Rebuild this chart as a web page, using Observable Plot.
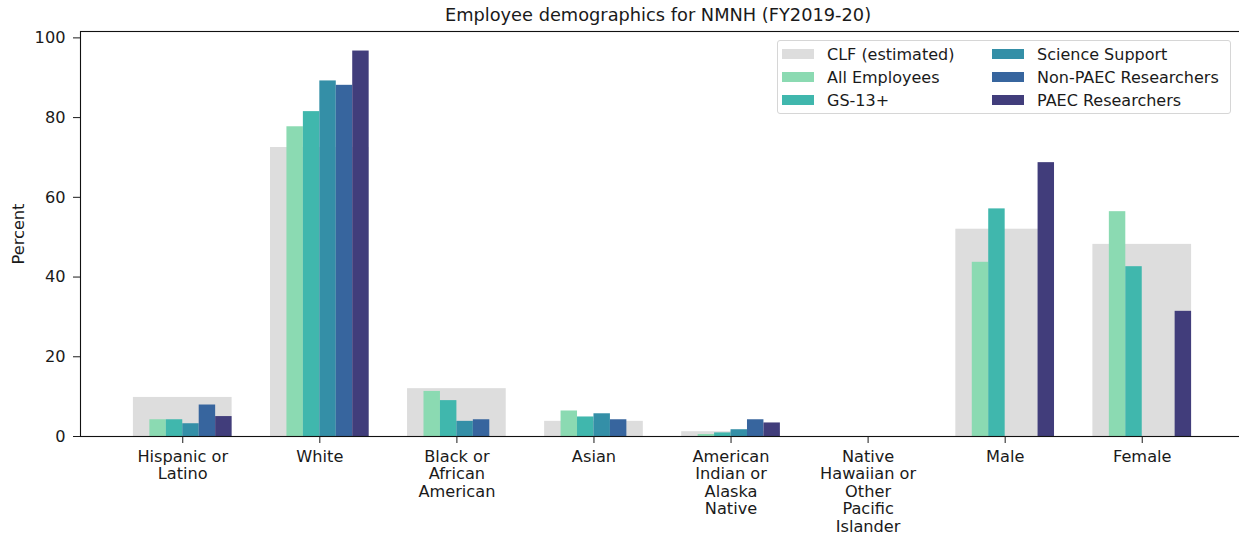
<!DOCTYPE html>
<html>
<head>
<meta charset="utf-8">
<script src="https://cdn.jsdelivr.net/npm/d3@7"></script>
<script src="https://cdn.jsdelivr.net/npm/@observablehq/plot@0.6"></script>
<style>
  html, body { margin: 0; padding: 0; background: #fff; }
  #wrap { position: relative; width: 1239px; height: 535px; font-family: "DejaVu Sans", sans-serif; color: #1a1a1a; }
  #title { position: absolute; left: 76px; width: 1164px; top: 4px; text-align: center; font-size: 17.8px; line-height: 21px; }
  #legend { position: absolute; left: 777px; top: 40px; width: 454px; height: 74px; box-sizing: border-box;
    border: 1px solid #d6d6d6; border-radius: 3px; background: rgba(255,255,255,0.85); font-size: 16px; }
  .item { position: absolute; display: flex; align-items: center; white-space: nowrap; }
  .sw { width: 32px; height: 10px; margin-right: 13px; }
</style>
</head>
<body>
<div id="wrap">
  <div id="chart"></div>
  <div id="title">Employee demographics for NMNH (FY2019-20)</div>
  <div id="legend"></div>
</div>
<script>
const categories = [
  "Hispanic or\nLatino", "White", "Black or\nAfrican\nAmerican", "Asian",
  "American\nIndian or\nAlaska\nNative", "Native\nHawaiian or\nOther\nPacific\nIslander",
  "Male", "Female"
];
const seriesNames = ["CLF (estimated)", "All Employees", "GS-13+", "Science Support", "Non-PAEC Researchers", "PAEC Researchers"];
const seriesColors = ["#dddddd", "#8bdab2", "#40b7ad", "#348fa7", "#37659e", "#413d7b"];

const clf            = [9.8, 72.5, 12.0, 3.8, 1.2, 0, 52.0, 48.2];
const allEmployees   = [4.2, 77.7, 11.3, 6.4, 0.5, 0, 43.7, 56.4];
const gs13           = [4.2, 81.5, 9.0, 4.9, 0.9, 0, 57.1, 42.6];
const scienceSupport = [3.2, 89.2, 3.8, 5.7, 1.7, 0, null, null];
const nonPaec        = [7.9, 88.1, 4.2, 4.2, 4.2, 0, null, null];
const paec           = [5.0, 96.7, 0, 0, 3.4, 0, 68.7, 31.4];
const yTicks = [0, 20, 40, 60, 80, 100];

const seriesValues = [clf, allEmployees, gs13, scienceSupport, nonPaec, paec];
const slot = 0.12;      // width of one bar in category units
const half = 3 * slot;  // half-width of a category group

const rows = [];
categories.forEach((c, i) => {
  seriesValues.forEach((vals, j) => {
    const v = vals[i];
    if (v == null || v <= 0) return;
    const x1 = j === 0 ? i - half : i - half + slot * j;
    const x2 = j === 0 ? i + half : x1 + slot;
    rows.push({i, series: seriesNames[j], value: v, x1, x2});
  });
});

const chart = Plot.plot({
  width: 1239,
  height: 535,
  marginLeft: 80,
  marginRight: -5,
  marginTop: 31,
  marginBottom: 99,
  style: {fontFamily: "DejaVu Sans, sans-serif", fontSize: "16px", color: "#1a1a1a", background: "white"},
  x: {domain: [-0.746, 7.746], axis: null},
  y: {domain: [0, 101.6], axis: null},
  color: {domain: seriesNames, range: seriesColors},
  marks: [
    Plot.rectY(rows, {x1: "x1", x2: "x2", y: "value", fill: "series", inset: 0}),
    Plot.frame({stroke: "#111", strokeWidth: 1.1}),
    Plot.axisY(yTicks, {tickSize: 7, tickPadding: 8, fontSize: 16.2, label: "Percent", labelAnchor: "center", labelArrow: "none", labelOffset: 68}),
    Plot.axisX(d3.range(categories.length), {tickSize: 7, tickPadding: 6, fontSize: 16.2, lineHeight: 1.08, tickFormat: i => categories[i], label: null})
  ]
});
document.getElementById("chart").appendChild(chart);

const legend = document.getElementById("legend");
const pos = [
  [4, 13], [4, 36], [4, 59],
  [214, 13], [214, 36], [214, 59]
];
seriesNames.forEach((name, j) => {
  const it = document.createElement("div");
  it.className = "item";
  it.style.left = pos[j][0] + "px";
  it.style.top = (pos[j][1] - 10) + "px";
  it.style.height = "20px";
  const sw = document.createElement("div");
  sw.className = "sw";
  sw.style.background = seriesColors[j];
  const tx = document.createElement("span");
  tx.textContent = name;
  it.appendChild(sw); it.appendChild(tx);
  legend.appendChild(it);
});
</script>
</body>
</html>
